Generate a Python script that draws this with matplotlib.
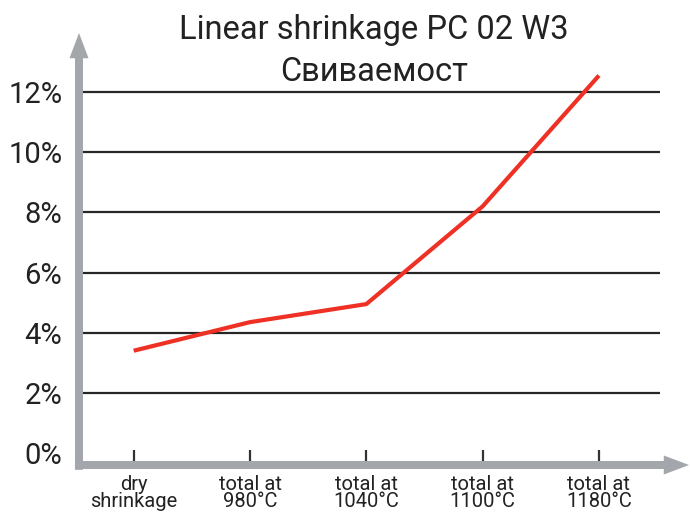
import matplotlib
matplotlib.use("Agg")
import matplotlib.pyplot as plt

plt.rcParams['font.family'] = ['Roboto', 'DejaVu Sans']

categories = ["dry\nshrinkage", "total at\n980°C", "total at\n1040°C", "total at\n1100°C", "total at\n1180°C"]
shrinkage = [3.4, 4.35, 4.95, 8.2, 12.55]
yticks = [0, 2, 4, 6, 8, 10, 12]
ytick_labels = ["0%", "2%", "4%", "6%", "8%", "10%", "12%"]
title_line1 = "Linear shrinkage PC 02 W3"
title_line2 = "Свиваемост"

W, H = 690, 515
fig = plt.figure(figsize=(6.9, 5.15), dpi=100)
ax_bottom, ax_top = 465, 62
ax = fig.add_axes([79 / W, (H - ax_bottom) / H, (660 - 79) / W, (ax_bottom - ax_top) / H])

x = list(range(len(categories)))
ax.set_xlim(-0.47, 4.525)
ax.set_ylim(-0.40, 13.0)

for s in ax.spines.values():
    s.set_visible(False)

# gridlines (not at 0)
for v in yticks:
    if v > 0:
        ax.axhline(v, color='#262626', lw=1.6, zorder=1)

ax.plot(x, shrinkage, color='#ee3124', lw=3.0, solid_capstyle='butt', zorder=3, clip_on=False)

ax.set_yticks(yticks)
ax.set_yticklabels(ytick_labels, fontsize=21, color='#222222')
ax.tick_params(axis='y', length=0, pad=12)

ax.set_xticks(x)
ax.set_xticklabels(categories, fontsize=14.5, color='#222222', linespacing=0.86)
ax.tick_params(axis='x', direction='in', length=11, width=1.6, color='#333333', pad=7)

gray = '#a3a6ab'
arrow_style = 'simple,head_length=1.3,head_width=0.98,tail_width=0.41'
ax.annotate('', xy=(0, 1.072), xycoords='axes fraction', xytext=(0, -0.012),
            textcoords='axes fraction',
            arrowprops=dict(arrowstyle=arrow_style, mutation_scale=14, color=gray, lw=0,
                            shrinkA=0, shrinkB=0), zorder=4)
ax.annotate('', xy=(1.05, 0), xycoords='axes fraction', xytext=(-0.007, 0),
            textcoords='axes fraction',
            arrowprops=dict(arrowstyle=arrow_style, mutation_scale=14, color=gray, lw=0,
                            shrinkA=0, shrinkB=0), zorder=4)

fig.text(374 / W, 1 - 30 / H, title_line1, ha='center', va='center', fontsize=23.5, color='#222222')
fig.text(374 / W, 1 - 72 / H, title_line2, ha='center', va='center', fontsize=23.5, color='#222222')

fig.savefig('out.png', dpi=100)
